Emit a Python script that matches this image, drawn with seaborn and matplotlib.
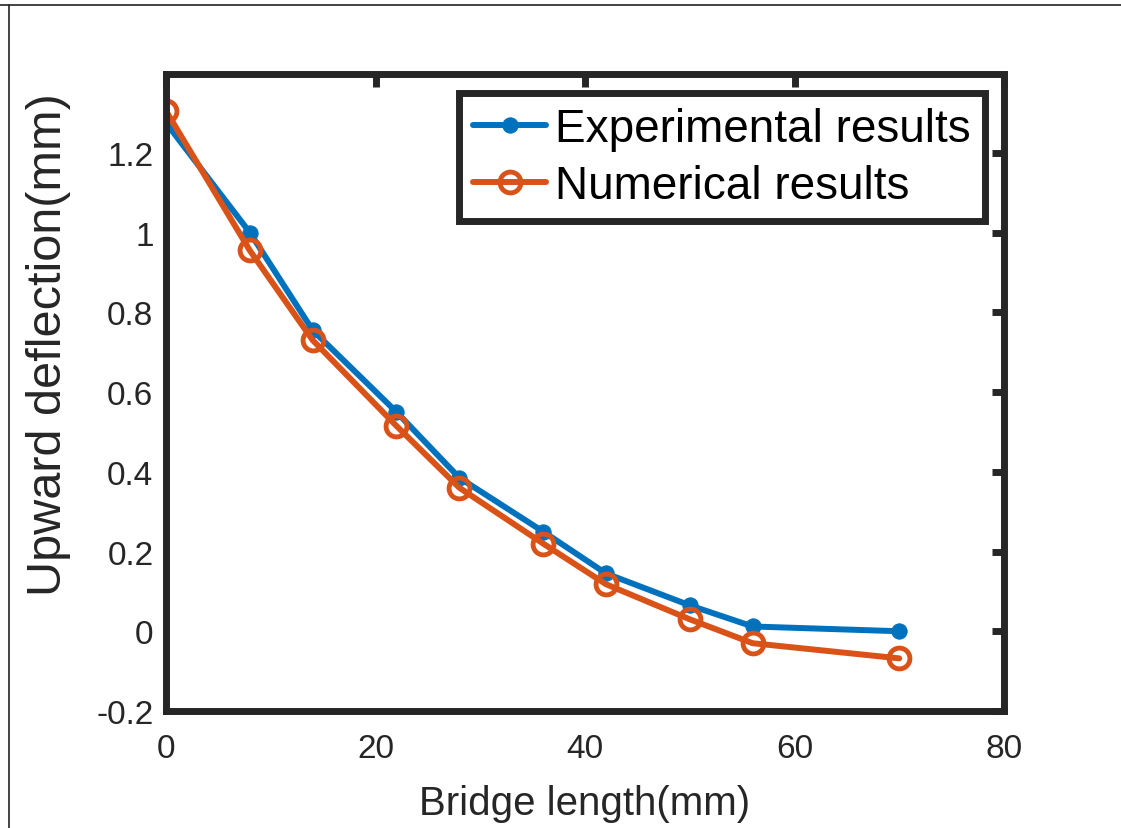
import numpy as np
import pandas as pd
import matplotlib
matplotlib.use('Agg')
import matplotlib.pyplot as plt
import seaborn as sns
from matplotlib.lines import Line2D

# values
bridge_length = [0, 8, 14, 22, 28, 36, 42, 50, 56, 70]
experimental = [1.275, 1.0, 0.755, 0.55, 0.385, 0.25, 0.145, 0.065, 0.012, 0.0]
numerical = [1.305, 0.955, 0.73, 0.515, 0.36, 0.22, 0.118, 0.03, -0.03, -0.068]
x_ticks = [0, 20, 40, 60, 80]
y_ticks = [-0.2, 0, 0.2, 0.4, 0.6, 0.8, 1, 1.2]
y_tick_labels = ['-0.2', '0', '0.2', '0.4', '0.6', '0.8', '1', '1.2']

df = pd.DataFrame({'length': bridge_length, 'exp': experimental, 'num': numerical})

sns.set_style('white')
plt.rcParams['font.family'] = ['Liberation Sans', 'DejaVu Sans']

fig = plt.figure(figsize=(11.21, 8.29), dpi=100)
ax = fig.add_axes([166 / 1121, 1 - 712 / 829, (1004 - 166) / 1121, (712 - 75) / 829])

blue = '#0072BD'
orange = '#D95319'

sns.lineplot(data=df, x='length', y='exp', ax=ax, color=blue, lw=4.3,
             marker='o', markersize=11, markeredgecolor=blue,
             label='Experimental results')
sns.lineplot(data=df, x='length', y='num', ax=ax, color=orange, lw=4.3,
             marker='o', markersize=15, markerfacecolor='none',
             markeredgecolor=orange, markeredgewidth=3.5,
             label='Numerical results')

ax.set_xlim(0, 80)
ax.set_ylim(-0.2, 1.3975)
ax.set_xticks(x_ticks)
ax.set_xticklabels([str(t) for t in x_ticks])
ax.set_yticks(y_ticks)
ax.set_yticklabels(y_tick_labels)

for s in ax.spines.values():
    s.set_linewidth(5)
    s.set_color('#262626')
    s.set_visible(True)

ax.tick_params(direction='in', length=9, width=5, color='#262626',
               top=True, right=True, labelsize=24, labelcolor='#262626')
ax.tick_params(axis='x', pad=16)
ax.tick_params(axis='y', pad=9)

ax.set_xlabel('Bridge length(mm)', fontsize=29, color='#262626')
ax.set_ylabel('Upward deflection(mm)', fontsize=35, color='#262626')
ax.xaxis.set_label_coords(0.5, -0.115)
ax.yaxis.set_label_coords(-0.113, 0.576)

leg = ax.legend(loc='upper right', bbox_to_anchor=(0.977, 0.97), borderaxespad=0,
                fontsize=33, frameon=True, fancybox=False, framealpha=1,
                handlelength=1.6, handletextpad=0.2, borderpad=0.3,
                labelspacing=0.28)
leg.get_frame().set_edgecolor('#262626')
leg.get_frame().set_linewidth(5)
for t in leg.get_texts():
    t.set_color('black')

# thin frame lines at the top and left edges of the image
fig.add_artist(Line2D([0, 1], [1 - 6 / 829] * 2, color='#222222', lw=1.2, transform=fig.transFigure))
fig.add_artist(Line2D([9 / 1121] * 2, [0, 1 - 6 / 829], color='#222222', lw=1.2, transform=fig.transFigure))

fig.savefig('out.png', dpi=100)
